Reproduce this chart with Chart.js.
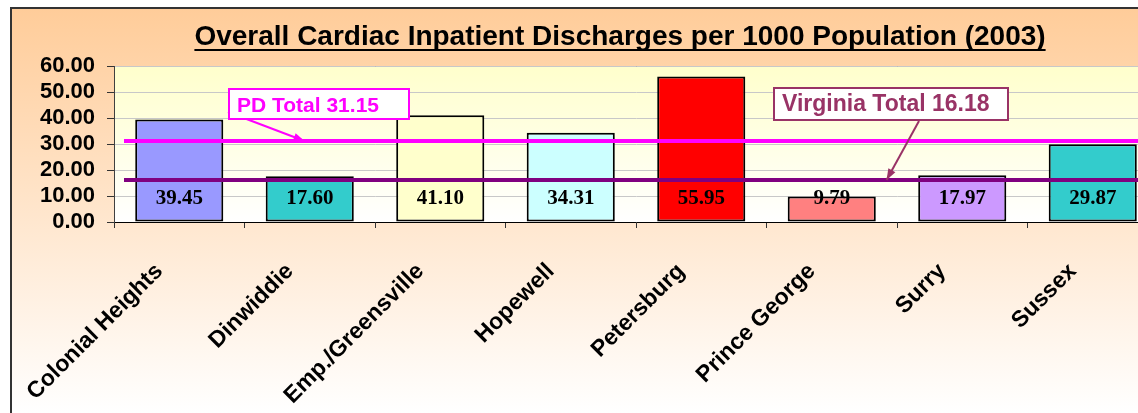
<!DOCTYPE html>
<html lang="en">
<head>
  <meta charset="UTF-8">
  <title>Overall Cardiac Inpatient Discharges per 1000 Population (2003)</title>
  <script src="https://cdn.jsdelivr.net/npm/chart.js"></script>
  <style>
    html, body { margin: 0; padding: 0; background: #fff; overflow: hidden; }
    #wrap { position: relative; width: 1170px; height: 413px; }
  </style>
</head>
<body>
  <div id="wrap"><canvas id="cardiac" width="1170" height="413"></canvas></div>

  <script>
    // data
    const chartTitle = 'Overall Cardiac Inpatient Discharges per 1000 Population (2003)';
    const localities = ['Colonial Heights', 'Dinwiddie', 'Emp./Greensville', 'Hopewell', 'Petersburg', 'Prince George', 'Surry', 'Sussex'];
    const discharges = [39.45, 17.60, 41.10, 34.31, 55.95, 9.79, 17.97, 29.87];
    const barColors = ['#9999FF', '#33CCCC', '#FFFFCC', '#CCFFFF', '#FF0000', '#FF8080', '#CC99FF', '#33CCCC'];
    const yTicks = [0, 10, 20, 30, 40, 50, 60];
    const pdTotal = 31.15;
    const virginiaTotal = 16.18;

    const sans = '"Liberation Sans", Arial, sans-serif';
    const serif = '"Liberation Serif", "Times New Roman", serif';

    // callouts: box placed by category index / value, arrow points at the reference line
    const callouts = [
      { text: 'PD Total ' + pdTotal.toFixed(2), value: pdTotal, color: '#FF00FF', line: '#FF00FF', lineWidth: 4,
        boxAt: 0.37, boxTop: 51.5, w: 182, h: 32, size: 21, tail: [0, 24], tipAt: 0.96 },
      { text: 'Virginia Total ' + virginiaTotal.toFixed(2), value: virginiaTotal, color: '#993366', line: '#800080', lineWidth: 4,
        boxAt: 4.55, boxTop: 51.9, w: 236, h: 34, size: 23, tail: [146, 34], tipAt: 5.42 }
    ];

    const backdrop = {
      id: 'backdrop',
      beforeDraw(chart) {
        const ctx = chart.ctx;
        const a = chart.chartArea;
        ctx.save();
        ctx.fillStyle = '#fff';
        ctx.fillRect(0, 0, chart.width, chart.height);
        const g = ctx.createLinearGradient(0, 7, 0, chart.height);
        g.addColorStop(0, '#FFCC99');
        g.addColorStop(1, '#FFFFFF');
        ctx.fillStyle = g;
        ctx.fillRect(10, 7, chart.width - 10, chart.height - 7);
        ctx.strokeStyle = '#333';
        ctx.lineWidth = 2;
        ctx.strokeRect(11, 8, chart.width, chart.height);

        const g2 = ctx.createLinearGradient(0, a.top, 0, a.bottom);
        g2.addColorStop(0, '#FFFFCC');
        g2.addColorStop(1, '#FFFFFF');
        ctx.fillStyle = g2;
        ctx.fillRect(a.left, a.top, a.width, a.height);
        ctx.strokeStyle = '#808080';
        ctx.lineWidth = 1;
        ctx.beginPath();
        ctx.moveTo(a.left, a.top + 0.5);
        ctx.lineTo(a.right, a.top + 0.5);
        ctx.stroke();

        // title, underlined
        ctx.font = 'bold 28px ' + sans;
        ctx.fillStyle = '#000';
        ctx.textAlign = 'center';
        ctx.textBaseline = 'alphabetic';
        const tx = 620;
        ctx.fillText(chartTitle, tx, 45);
        const w = ctx.measureText(chartTitle).width;
        ctx.fillRect(tx - w / 2, 49, w, 2);
        ctx.restore();
      }
    };

    const overlay = {
      id: 'overlay',
      afterDatasetsDraw(chart) {
        const ctx = chart.ctx;
        const a = chart.chartArea;
        const xs = chart.scales.x;
        const ys = chart.scales.y;
        ctx.save();

        // reference lines
        callouts.forEach(c => {
          const y = ys.getPixelForValue(c.value);
          ctx.strokeStyle = c.line;
          ctx.lineWidth = c.lineWidth;
          ctx.beginPath();
          ctx.moveTo(a.left + 10, y);
          ctx.lineTo(a.right, y);
          ctx.stroke();
        });

        // value labels sit near the base of each bar
        ctx.font = 'bold 21px ' + serif;
        ctx.fillStyle = '#000';
        ctx.textAlign = 'center';
        ctx.textBaseline = 'alphabetic';
        const base = ys.getPixelForValue(0);
        chart.getDatasetMeta(0).data.forEach((bar, i) => {
          ctx.fillText(discharges[i].toFixed(2), bar.x, base - 18);
        });

        // callout boxes with arrows
        callouts.forEach(c => {
          const bx = Math.round(xs.getPixelForValue(c.boxAt));
          const by = Math.round(ys.getPixelForValue(c.boxTop));
          const sx = bx + c.tail[0];
          const sy = by + c.tail[1];
          const ex = xs.getPixelForValue(c.tipAt);
          const ey = ys.getPixelForValue(c.value);
          ctx.strokeStyle = c.color;
          ctx.fillStyle = c.color;
          ctx.lineWidth = 2;
          ctx.beginPath();
          ctx.moveTo(sx, sy);
          ctx.lineTo(ex, ey);
          ctx.stroke();
          const ang = Math.atan2(ey - sy, ex - sx);
          ctx.beginPath();
          ctx.moveTo(ex, ey);
          ctx.lineTo(ex - 11 * Math.cos(ang) + 4 * Math.sin(ang), ey - 11 * Math.sin(ang) - 4 * Math.cos(ang));
          ctx.lineTo(ex - 11 * Math.cos(ang) - 4 * Math.sin(ang), ey - 11 * Math.sin(ang) + 4 * Math.cos(ang));
          ctx.closePath();
          ctx.fill();

          ctx.fillStyle = '#fff';
          ctx.fillRect(bx, by, c.w, c.h);
          ctx.strokeRect(bx + 1, by + 1, c.w - 2, c.h - 2);
          ctx.fillStyle = c.color;
          ctx.font = 'bold ' + c.size + 'px ' + sans;
          ctx.textAlign = 'left';
          ctx.fillText(c.text, bx + 9, by + 24);
        });
        ctx.restore();
      }
    };

    new Chart(document.getElementById('cardiac'), {
      type: 'bar',
      data: {
        labels: localities,
        datasets: [{
          data: discharges,
          backgroundColor: barColors,
          borderColor: '#000',
          borderWidth: 2,
          borderSkipped: false,
          barPercentage: 0.675,
          categoryPercentage: 1
        }]
      },
      options: {
        responsive: false,
        animation: false,
        layout: { padding: { top: 66, left: 11, right: 12, bottom: 0 } },
        plugins: {
          legend: { display: false },
          tooltip: { enabled: false },
          title: { display: false }
        },
        scales: {
          x: {
            grid: { offset: true, drawOnChartArea: false, color: '#333', tickLength: 6 },
            border: { color: '#000', width: 1 },
            ticks: {
              minRotation: 45, maxRotation: 45, color: '#000', padding: 30, labelOffset: -20,
              font: { family: sans, size: 23, weight: 'bold' }
            },
            afterFit(scale) { scale.height = 191; }
          },
          y: {
            min: 0,
            max: 60,
            afterBuildTicks(scale) { scale.ticks = yTicks.map(v => ({ value: v })); },
            grid: { color: '#C8C8C8', tickLength: 7, tickColor: '#333' },
            border: { color: '#404040' },
            ticks: {
              autoSkip: false,
              color: '#000', padding: 12,
              font: { family: sans, size: 22, weight: 'bold' },
              callback: v => Number(v).toFixed(2)
            },
            afterFit(scale) { scale.width = 103; }
          }
        }
      },
      plugins: [backdrop, overlay]
    });
  </script>
</body>
</html>
